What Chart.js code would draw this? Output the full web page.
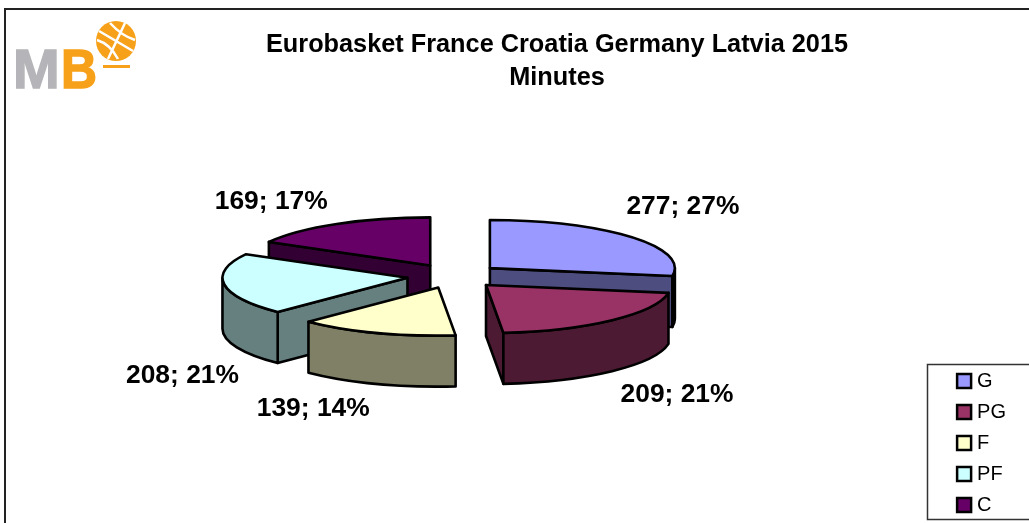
<!DOCTYPE html>
<html>
<head>
<meta charset="utf-8">
<style>
  html, body { margin: 0; padding: 0; background: #fff; }
  #wrap { position: relative; width: 1029px; height: 523px; }
</style>
<script src="https://cdn.jsdelivr.net/npm/chart.js@4/dist/chart.umd.min.js"></script>
</head>
<body>
<div id="wrap"><canvas id="myChart" width="1029" height="523"></canvas></div>
<script>
var titleLines = ['Eurobasket France Croatia Germany Latvia 2015', 'Minutes'];
var positions = ['G', 'PG', 'F', 'PF', 'C'];
var minutes = [277, 209, 139, 208, 169];
var percents = [27, 21, 14, 21, 17];
var topColors = ['#9999FF', '#993366', '#FFFFCC', '#CCFFFF', '#660066'];
var sideColors = ['#4D4D80', '#4D1A33', '#808066', '#668080', '#330033'];

var fontName = '"Liberation Sans", Arial, sans-serif';

// fake 3d: the flat pie gets squashed and pushed down on screen
var pieX = 454, pieY = 276, pieRadius = 185, tilt = 0.26, depth = 51, explode = 47;
// label centre, relative to the tip of each slice
var labelShift = [[193, -61], [191, 110], [-125, 121], [-225, 98], [-159, -64]];

function drawSlice(ctx, arc, i) {
  var p = arc.getProps(['x', 'y', 'startAngle', 'endAngle', 'outerRadius'], true);
  var a0 = p.startAngle, a1 = p.endAngle, mid = (a0 + a1) / 2;
  var r = p.outerRadius;
  var dx = Math.cos(mid) * explode, dy = Math.sin(mid) * explode;
  var cx = pieX + dx, cy = pieY + dy * tilt;

  ctx.save();
  ctx.lineWidth = 2.6;
  ctx.strokeStyle = '#000';
  ctx.lineJoin = 'round';
  ctx.fillStyle = sideColors[i];

  function wall(ang) {
    var ex = cx + Math.cos(ang) * r, ey = cy + Math.sin(ang) * r * tilt;
    ctx.beginPath();
    ctx.moveTo(cx, cy);
    ctx.lineTo(ex, ey);
    ctx.lineTo(ex, ey + depth);
    ctx.lineTo(cx, cy + depth);
    ctx.closePath();
    ctx.fill();
    ctx.stroke();
  }
  // only the walls turned to the viewer
  if (Math.cos(a0) < -0.001) wall(a0);
  if (Math.cos(a1) > 0.001) wall(a1);

  // rim, front half only
  var from = Math.min(Math.max(a0, 0), Math.PI);
  var to = Math.min(a1, Math.PI);
  if (to > from) {
    ctx.beginPath();
    ctx.ellipse(cx, cy, r, r * tilt, 0, from, to);
    ctx.ellipse(cx, cy + depth, r, r * tilt, 0, to, from, true);
    ctx.closePath();
    ctx.fill();
    ctx.stroke();
  }

  // top face comes from the arc element itself
  ctx.save();
  ctx.translate(cx, cy);
  ctx.scale(1, tilt);
  ctx.translate(-p.x, -p.y);
  arc.draw(ctx);
  ctx.restore();

  ctx.beginPath();
  ctx.moveTo(cx, cy);
  ctx.ellipse(cx, cy, r, r * tilt, 0, a0, a1);
  ctx.closePath();
  ctx.stroke();
  ctx.restore();

  return { x: cx, y: cy };
}

function drawLogo(ctx) {
  ctx.save();
  ctx.textBaseline = 'alphabetic';
  ctx.textAlign = 'left';
  ctx.font = 'bold 56px ' + fontName;
  ctx.lineWidth = 1.5;
  ctx.fillStyle = ctx.strokeStyle = '#B5B5B9';
  ctx.fillText('M', 13, 88, 49);
  ctx.strokeText('M', 13, 88, 49);
  ctx.fillStyle = ctx.strokeStyle = '#F7A11A';
  ctx.fillText('B', 61, 88, 36);
  ctx.strokeText('B', 61, 88, 36);

  ctx.fillRect(103, 65, 27, 3);
  ctx.beginPath();
  ctx.arc(116, 41, 20, 0, Math.PI * 2);
  ctx.fill();
  ctx.strokeStyle = '#fff';
  ctx.lineWidth = 2.5;
  ctx.beginPath();
  ctx.moveTo(99, 31); ctx.lineTo(133, 51);
  ctx.moveTo(125, 23); ctx.lineTo(108, 59);
  ctx.moveTo(97, 40); ctx.quadraticCurveTo(110, 44, 118, 59);
  ctx.moveTo(110, 23); ctx.quadraticCurveTo(122, 36, 135, 40);
  ctx.stroke();
  ctx.restore();
}

var pie3d = {
  id: 'pie3d',
  beforeDraw: function (chart) {
    var ctx = chart.ctx;
    ctx.save();
    ctx.fillStyle = '#fff';
    ctx.fillRect(0, 0, chart.width, chart.height);
    // chart frame, right and bottom run off the picture
    ctx.strokeStyle = '#222';
    ctx.lineWidth = 2;
    ctx.strokeRect(5, 9, chart.width + 10, chart.height + 10);
    // legend box
    ctx.lineWidth = 1.5;
    ctx.strokeStyle = '#333';
    ctx.strokeRect(927.5, 364.5, chart.width, 155);
    ctx.restore();
    drawLogo(ctx);
  },
  beforeDatasetDraw: function (chart, args) {
    var ctx = chart.ctx;
    var arcs = chart.getDatasetMeta(args.index).data;
    var order = arcs.map(function (a, i) { return i; });
    // back slices first
    order.sort(function (a, b) {
      var ma = (arcs[a].startAngle + arcs[a].endAngle) / 2;
      var mb = (arcs[b].startAngle + arcs[b].endAngle) / 2;
      return Math.sin(ma) - Math.sin(mb);
    });
    var tips = [];
    order.forEach(function (i) {
      tips[i] = drawSlice(ctx, arcs[i], i);
    });

    ctx.save();
    ctx.font = 'bold 26.4px ' + fontName;
    ctx.fillStyle = '#000';
    ctx.textAlign = 'center';
    ctx.textBaseline = 'middle';
    minutes.forEach(function (v, i) {
      ctx.fillText(v + '; ' + percents[i] + '%', tips[i].x + labelShift[i][0], tips[i].y + labelShift[i][1]);
    });
    ctx.restore();
    return false;
  },
  afterDraw: function (chart) {
    // legend swatches: the library ties the text gap to the box width, so the
    // box it draws is left empty and the wider square goes on top
    var ctx = chart.ctx;
    ctx.save();
    ctx.lineWidth = 2.5;
    ctx.strokeStyle = '#000';
    chart.legend.legendHitBoxes.forEach(function (box, i) {
      ctx.fillStyle = topColors[i];
      var y = box.top + box.height / 2 - 7;
      ctx.fillRect(box.left + 1, y, 14, 14);
      ctx.strokeRect(box.left + 1, y, 14, 14);
    });
    ctx.restore();
  }
};

var ctx = document.getElementById('myChart').getContext('2d');

var myChart = new Chart(ctx, {
  type: 'pie',
  data: {
    labels: positions,
    datasets: [{
      data: minutes,
      backgroundColor: topColors,
      borderWidth: 0,
      radius: pieRadius
    }]
  },
  plugins: [pie3d],
  options: {
    responsive: false,
    animation: false,
    events: [],
    layout: { padding: { left: 98, right: 13, top: 0, bottom: -3 } },
    plugins: {
      tooltip: { enabled: false },
      title: {
        display: true,
        text: titleLines,
        color: '#000',
        padding: { top: 29, bottom: 0 },
        font: { family: fontName, size: 25.3, weight: 'bold', lineHeight: 1.3 }
      },
      legend: {
        position: 'right',
        align: 'end',
        labels: {
          color: '#000',
          boxWidth: 11,
          boxHeight: 14,
          padding: 11,
          font: { family: fontName, size: 20 },
          generateLabels: function (chart) {
            var items = Chart.overrides.pie.plugins.legend.labels.generateLabels(chart);
            items.forEach(function (it) {
              it.lineWidth = 0;
              it.fillStyle = 'rgba(0,0,0,0)';
            });
            return items;
          }
        }
      }
    }
  }
});
</script>
</body>
</html>
